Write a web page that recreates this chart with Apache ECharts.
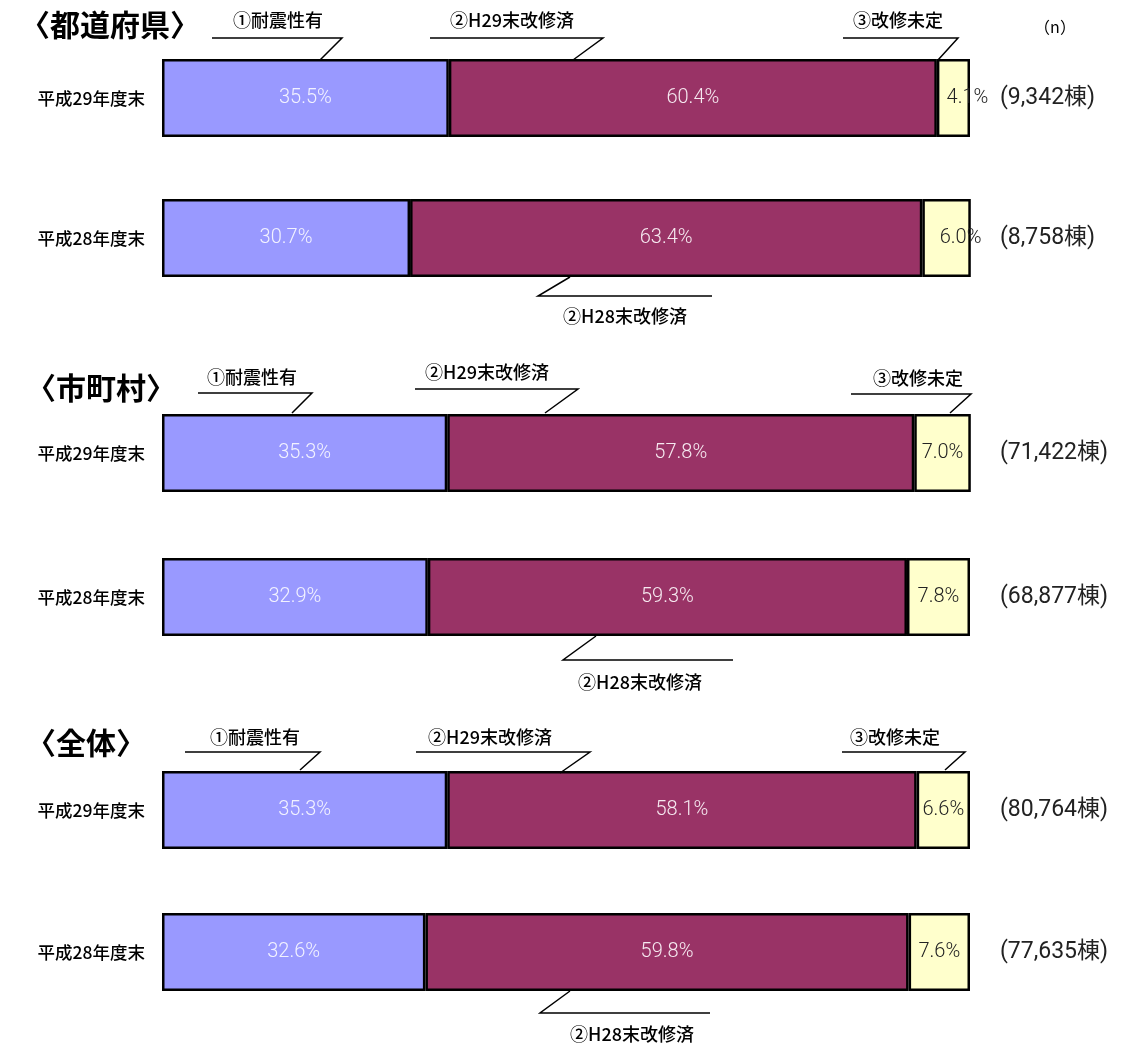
<!DOCTYPE html>
<html><head><meta charset="utf-8">
<script src="https://cdn.jsdelivr.net/npm/echarts@6/dist/echarts.min.js"></script>
<style>html,body{margin:0;padding:0;background:#fff}#c{width:1121px;height:1045px}</style>
</head><body><div id="c"></div>
<script>
const categories = ['平成29年度末', '平成28年度末'];
const seriesNames = ['①耐震性有', '②改修済', '③改修未定'];
const prefSeismic = [35.5, 30.7];
const prefRepaired = [60.4, 63.4];
const prefUndecided = [4.1, 6.0];
const prefN = ['(9,342棟)', '(8,758棟)'];
const muniSeismic = [35.3, 32.9];
const muniRepaired = [57.8, 59.3];
const muniUndecided = [7.0, 7.8];
const muniN = ['(71,422棟)', '(68,877棟)'];
const totalSeismic = [35.3, 32.6];
const totalRepaired = [58.1, 59.8];
const totalUndecided = [6.6, 7.6];
const totalN = ['(80,764棟)', '(77,635棟)'];
const groupTitles = ['〈都道府県〉', '〈市町村〉', '〈全体〉'];

const groups = [
  {s: prefSeismic, r: prefRepaired, u: prefUndecided, n: prefN},
  {s: muniSeismic, r: muniRepaired, u: muniUndecided, n: muniN},
  {s: totalSeismic, r: totalRepaired, u: totalUndecided, n: totalN}
];
const gridTops = [28, 381, 739];
const gridHeights = [280, 288, 284];
const colors = ['#9999FF', '#993366', '#FFFFCC'];
const labelColors = ['#f2f2ff', '#f6e9f0', '#222'];
const FONT = '"Noto Sans CJK JP", "Noto Sans", sans-serif';

const grid = [], xAxis = [], yAxis = [], series = [];
groups.forEach((g, i) => {
  grid.push({left: 162, right: 151, top: gridTops[i], height: gridHeights[i]});
  xAxis.push({gridIndex: i, type: 'value', min: 0, max: 100, show: false});
  yAxis.push({gridIndex: i, type: 'category', data: categories, inverse: true,
    axisLine: {show: false}, axisTick: {show: false}, splitLine: {show: false},
    axisLabel: {margin: 17, fontSize: 17.5, fontWeight: 500, color: '#000', fontFamily: FONT}});
  yAxis.push({gridIndex: i, type: 'category', data: g.n, inverse: true, position: 'right',
    axisLine: {show: false}, axisTick: {show: false}, splitLine: {show: false},
    axisLabel: {margin: 30, fontSize: 23, color: '#222', fontFamily: 'Roboto, "Noto Sans CJK JP", sans-serif'}});
  [g.s, g.r, g.u].forEach((vals, k) => {
    series.push({
      type: 'bar', name: seriesNames[k], stack: 'g' + i,
      xAxisIndex: i, yAxisIndex: i * 2, barWidth: 78,
      data: vals.map(v => (k === 2 && i === 0) ? {value: v, label: {offset: [14, 0]}} : v),
      itemStyle: {color: colors[k], borderColor: '#000', borderWidth: 2.5},
      label: {show: true, position: 'inside', formatter: p => p.value.toFixed(1) + '%',
        color: labelColors[k], fontSize: 20, fontFamily: 'Roboto, "Noto Sans", sans-serif', fontWeight: 300},
      emphasis: {disabled: true}, animation: false
    });
  });
});

const callouts = [
  {pts: [[212,38],[342,38],[320,60]], text: '①耐震性有', tx: 278, ty: 20},
  {pts: [[430,38],[603,38],[573,60]], text: '②H29末改修済', tx: 512, ty: 20},
  {pts: [[843,38],[958,38],[938,60]], text: '③改修未定', tx: 898, ty: 20},
  {pts: [[570,277],[538,296],[712,296]], text: '②H28末改修済', tx: 625, ty: 316},
  {pts: [[198,393],[312,393],[292,413]], text: '①耐震性有', tx: 252, ty: 377},
  {pts: [[415,389],[578,389],[545,413]], text: '②H29末改修済', tx: 487, ty: 372},
  {pts: [[851,394],[971,394],[950,413]], text: '③改修未定', tx: 918, ty: 378},
  {pts: [[596,636],[563,660],[733,660]], text: '②H28末改修済', tx: 640, ty: 682},
  {pts: [[185,752],[320,752],[300,770]], text: '①耐震性有', tx: 255, ty: 737},
  {pts: [[416,752],[590,752],[560,773]], text: '②H29末改修済', tx: 490, ty: 737},
  {pts: [[842,752],[965,752],[945,770]], text: '③改修未定', tx: 895, ty: 737},
  {pts: [[570,991],[540,1013],[710,1013]], text: '②H28末改修済', tx: 632, ty: 1034}
];
const graphic = [];
callouts.forEach(c => {
  graphic.push({type: 'polyline', shape: {points: c.pts}, style: {stroke: '#000', lineWidth: 1.5, fill: null}, z: 10});
  graphic.push({type: 'text', x: c.tx, y: c.ty, style: {text: c.text, align: 'center', verticalAlign: 'middle',
    font: '500 18px ' + FONT, fill: '#000'}, z: 10});
});
const titlePos = [[20, 25], [26, 388], [26, 743]];
groupTitles.forEach((t, i) => {
  graphic.push({type: 'text', x: titlePos[i][0], y: titlePos[i][1], style: {text: t, align: 'left', verticalAlign: 'middle',
    font: 'bold 30px ' + FONT, fill: '#000'}});
});
graphic.push({type: 'text', x: 1055, y: 27, style: {text: '（n）', align: 'center', verticalAlign: 'middle', font: '16px ' + FONT, fill: '#000'}});

const chart = echarts.init(document.getElementById('c'));
chart.setOption({animation: false, grid, xAxis, yAxis, series, graphic});
</script></body></html>
